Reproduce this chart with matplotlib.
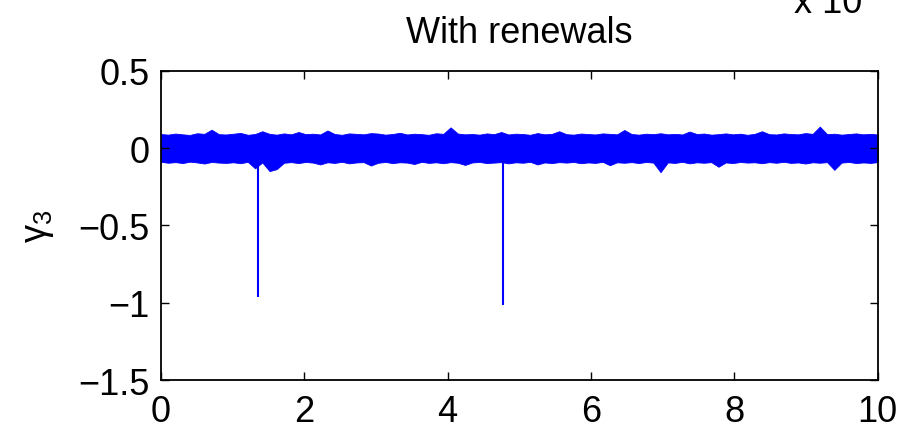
import numpy as np
import matplotlib.pyplot as plt

# noise band envelope (upper and lower edges)
upper = [0.092, 0.088, 0.095, 0.090, 0.086, 0.097, 0.093, 0.120, 0.091, 0.089,
         0.094, 0.099, 0.087, 0.092, 0.110, 0.093, 0.088, 0.096, 0.090, 0.105,
         0.091, 0.094, 0.089, 0.115, 0.092, 0.087, 0.096, 0.093, 0.090, 0.098,
         0.095, 0.088, 0.092, 0.100, 0.089, 0.094, 0.091, 0.087, 0.097, 0.093,
         0.135, 0.095, 0.090, 0.092, 0.088, 0.096, 0.091, 0.105, 0.089, 0.094,
         0.092, 0.087, 0.098, 0.090, 0.093, 0.110, 0.091, 0.088, 0.095, 0.092,
         0.089, 0.096, 0.093, 0.090, 0.118, 0.092, 0.088, 0.094, 0.091, 0.097,
         0.090, 0.093, 0.089, 0.108, 0.092, 0.095, 0.088, 0.091, 0.096, 0.090,
         0.094, 0.087, 0.093, 0.110, 0.091, 0.089, 0.096, 0.092, 0.090, 0.098,
         0.093, 0.140, 0.091, 0.094, 0.088, 0.092, 0.096, 0.090, 0.093, 0.089]
lower = [-0.088, -0.094, -0.090, -0.096, -0.087, -0.092, -0.099, -0.089, -0.093, -0.095,
         -0.091, -0.097, -0.088, -0.130, -0.092, -0.148, -0.135, -0.094, -0.090, -0.096,
         -0.089, -0.093, -0.105, -0.091, -0.095, -0.088, -0.098, -0.092, -0.090, -0.112,
         -0.094, -0.089, -0.096, -0.091, -0.093, -0.102, -0.088, -0.095, -0.091, -0.097,
         -0.090, -0.094, -0.108, -0.092, -0.089, -0.096, -0.093, -0.090, -0.098, -0.091,
         -0.094, -0.088, -0.105, -0.092, -0.096, -0.090, -0.093, -0.089, -0.097, -0.092,
         -0.095, -0.088, -0.110, -0.091, -0.094, -0.090, -0.096, -0.089, -0.093, -0.155,
         -0.092, -0.095, -0.088, -0.098, -0.091, -0.094, -0.090, -0.120, -0.092, -0.096,
         -0.089, -0.093, -0.091, -0.097, -0.090, -0.094, -0.088, -0.095, -0.092, -0.099,
         -0.091, -0.094, -0.090, -0.140, -0.093, -0.089, -0.096, -0.092, -0.095, -0.090]

# the two renewal spikes
spike_x = [1.35, 4.77]
spike_y = [-0.965, -1.015]

xticks = [0, 2, 4, 6, 8, 10]
yticks = [-1.5, -1, -0.5, 0, 0.5]
ytick_labels = ['\u22121.5', '\u22121', '\u22120.5', '0', '0.5']

plt.rcParams['font.family'] = ['Liberation Sans', 'DejaVu Sans']
plt.rcParams['mathtext.fontset'] = 'custom'
plt.rcParams['mathtext.rm'] = 'Liberation Sans'
plt.rcParams['mathtext.it'] = 'Liberation Sans'

fig = plt.figure(figsize=(9.04, 4.31), dpi=100)
ax = fig.add_axes([0.178, 0.116, 0.793, 0.717])

x = np.linspace(0, 10, len(upper))
ax.fill_between(x, lower, upper, color='#0000ff', linewidth=0.6,
                edgecolor='#0000ff')
ax.vlines(spike_x, 0, spike_y, color='#0000ff', linewidth=1.5)

ax.set_xlim(0, 10)
ax.set_ylim(-1.5, 0.5)
ax.set_xticks(xticks)
ax.set_xticklabels([str(t) for t in xticks])
ax.set_yticks(yticks)
ax.set_yticklabels(ytick_labels)
ax.tick_params(direction='in', length=6, width=1, labelsize=26,
               top=True, right=True)
ax.tick_params(axis='x', pad=10)
ax.tick_params(axis='y', pad=8)
for s in ax.spines.values():
    s.set_linewidth(1.3)

ax.set_ylabel(r'$\gamma_3$', fontsize=26, labelpad=16)
ax.set_title('With renewals', fontsize=26, pad=21)

# axis multiplier, mostly cut off at the top edge
fig.text(0.878, 1 - 13 / 431, 'x 10', fontsize=26, ha='left', va='baseline')

fig.savefig('out.png', dpi=100)
